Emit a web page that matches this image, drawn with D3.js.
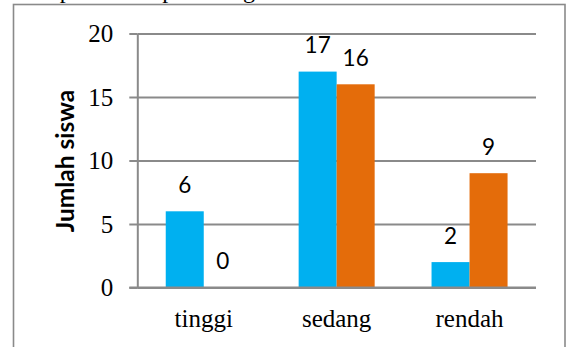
<!DOCTYPE html>
<html>
<head>
<meta charset="utf-8">
<script src="https://cdn.jsdelivr.net/npm/d3@7"></script>
<style>
  html, body { margin: 0; padding: 0; background: #ffffff; }
  svg { display: block; }
</style>
</head>
<body>
<svg id="chart" width="567" height="347"></svg>
<script>
// Jumlah siswa per kategori, dua kelompok
const categories = ["tinggi", "sedang", "rendah"];
const seriesNames = ["Kelompok 1", "Kelompok 2"];
const seriesA = [6, 17, 2];
const seriesB = [0, 16, 9];
const yTicks = [0, 5, 10, 15, 20];
const yTitle = "Jumlah siswa";
const captionLine = "dapat dilihat pada diagram";

const colors = ["#00B0F0", "#E46C0A"];
const gridColor = "#8a8a8a";
const serif = "'Liberation Serif', 'Times New Roman', serif";
const sans = "Lato, 'Noto Sans', sans-serif";

const W = 567, H = 347;
const plot = { left: 137.3, right: 536, top: 33.5, bottom: 287.5 };

const svg = d3.select("#chart");

// running text line above the figure, mostly outside the page top
svg.append("text")
  .attr("x", 37).attr("y", -2)
  .attr("font-family", serif).attr("font-size", 24)
  .attr("fill", "#000")
  .text(captionLine);

// outer frame of the chart
svg.append("rect")
  .attr("x", 13.5).attr("y", 4.5)
  .attr("width", 565 - 13.5).attr("height", 400)
  .attr("fill", "#fff")
  .attr("stroke", gridColor).attr("stroke-width", 1.6);

const x0 = d3.scaleBand()
  .domain(categories)
  .range([plot.left, plot.right])
  .paddingInner(0.428)
  .paddingOuter(0.214);

const x1 = d3.scaleBand()
  .domain([0, 1])
  .range([0, x0.bandwidth()]);

const y = d3.scaleLinear()
  .domain([0, 20])
  .range([plot.bottom, plot.top]);

// horizontal gridlines
const grid = svg.append("g")
  .attr("transform", `translate(${plot.left},0)`)
  .call(d3.axisLeft(y).tickValues(yTicks)
    .tickSize(-(plot.right - plot.left)).tickFormat(""));
grid.select(".domain").remove();
grid.selectAll("line").attr("stroke", gridColor).attr("stroke-width", 2);

// bars
const rows = categories.map((c, i) => ({ cat: c, vals: [seriesA[i], seriesB[i]] }));
const groups = svg.append("g").selectAll("g")
  .data(rows).join("g")
  .attr("transform", d => `translate(${x0(d.cat)},0)`);

groups.selectAll("rect")
  .data(d => d.vals.map((v, k) => ({ v, k })))
  .join("rect")
  .attr("x", d => x1(d.k))
  .attr("y", d => y(d.v))
  .attr("width", x1.bandwidth())
  .attr("height", d => y(0) - y(d.v))
  .attr("fill", d => colors[d.k]);

// value labels above bars
groups.selectAll("text")
  .data(d => d.vals.map((v, k) => ({ v, k })))
  .join("text")
  .attr("x", d => x1(d.k) + x1.bandwidth() / 2)
  .attr("y", d => y(d.v) - 18.5)
  .attr("text-anchor", "middle")
  .attr("font-family", sans).attr("font-size", 22.5)
  .attr("fill", "#000")
  .text(d => d.v);

// y axis with outside ticks
const yAxis = svg.append("g")
  .attr("transform", `translate(${plot.left},0)`)
  .call(d3.axisLeft(y).tickValues(yTicks).tickSizeInner(8).tickSizeOuter(0).tickPadding(16));
yAxis.select(".domain").attr("stroke", gridColor).attr("stroke-width", 2);
yAxis.selectAll(".tick line").attr("stroke", gridColor).attr("stroke-width", 2);
yAxis.selectAll(".tick text")
  .attr("font-family", serif).attr("font-size", 25).attr("fill", "#000");

// x axis baseline and category labels
const xAxis = svg.append("g")
  .attr("transform", `translate(0,${plot.bottom})`)
  .call(d3.axisBottom(x0).tickSize(0).tickPadding(0));
xAxis.select(".domain")
  .attr("d", `M${plot.left - 8},0H${plot.right}`)
  .attr("stroke", gridColor).attr("stroke-width", 2);
xAxis.selectAll(".tick text")
  .attr("y", 39).attr("dy", 0)
  .attr("font-family", serif).attr("font-size", 25).attr("fill", "#000");

// y axis title
svg.append("text")
  .attr("transform", "translate(74,161) rotate(-90)")
  .attr("text-anchor", "middle")
  .attr("font-family", sans).attr("font-weight", "bold").attr("font-size", 24.5)
  .attr("fill", "#000")
  .text(yTitle);
</script>
</body>
</html>
